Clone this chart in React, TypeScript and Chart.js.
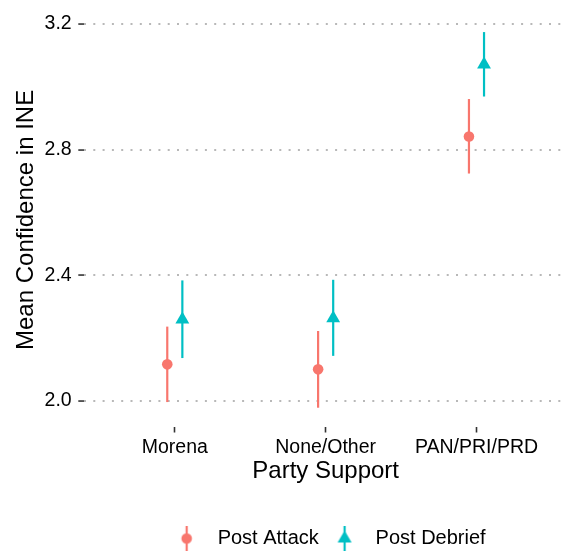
import React, { useEffect, useRef } from 'react';
import { Chart, registerables } from 'chart.js';

Chart.register(...registerables);

const categories = ['Morena', 'None/Other', 'PAN/PRI/PRD'];
const seriesNames = ['Post Attack', 'Post Debrief'];
const attackMean = [2.117, 2.101, 2.842];
const attackLow = [1.997, 1.979, 2.724];
const attackHigh = [2.237, 2.223, 2.961];
const debriefMean = [2.26, 2.264, 3.071];
const debriefLow = [2.137, 2.144, 2.969];
const debriefHigh = [2.384, 2.386, 3.174];
const yTicks = [2.0, 2.4, 2.8, 3.2];
const colors = ['#F8766D', '#00BFC4'];
const dodge = 0.05;

const FONT = "'Liberation Sans', Arial, Helvetica, sans-serif";

function makeIcon(kind: 'circle' | 'triangle', color: string): HTMLCanvasElement {
  const c = document.createElement('canvas');
  c.width = 16;
  c.height = 26;
  const g = c.getContext('2d')!;
  g.strokeStyle = color;
  g.fillStyle = color;
  g.lineWidth = 2.2;
  g.beginPath();
  g.moveTo(8, 0);
  g.lineTo(8, 26);
  g.stroke();
  g.beginPath();
  if (kind === 'circle') {
    g.arc(8, 13, 5.3, 0, Math.PI * 2);
  } else {
    g.moveTo(8, 5);
    g.lineTo(15, 17);
    g.lineTo(1, 17);
    g.closePath();
  }
  g.fill();
  return c;
}

const errorBarPlugin = {
  id: 'errorBars',
  beforeDatasetsDraw(chart: any) {
    const { ctx, scales } = chart;
    const x = scales.x;
    const y = scales.y;
    chart.data.datasets.forEach((ds: any) => {
      ctx.save();
      ctx.strokeStyle = ds.backgroundColor;
      ctx.lineWidth = 2.2;
      ds.data.forEach((pt: any) => {
        const px = x.getPixelForValue(pt.x);
        ctx.beginPath();
        ctx.moveTo(px, y.getPixelForValue(pt.lo));
        ctx.lineTo(px, y.getPixelForValue(pt.hi));
        ctx.stroke();
      });
      ctx.restore();
    });
  },
};

export default function App() {
  const ref = useRef<HTMLCanvasElement | null>(null);

  useEffect(() => {
    if (!ref.current) return;
    const allLow = [...attackLow, ...debriefLow];
    const allHigh = [...attackHigh, ...debriefHigh];
    const lo = Math.min(...allLow);
    const hi = Math.max(...allHigh);
    const span = hi - lo;
    const yMin = lo - 0.05 * span;
    const yMax = hi + 0.05 * span;

    const icons = [makeIcon('circle', colors[0]), makeIcon('triangle', colors[1])];

    const chart = new Chart(ref.current, {
      type: 'scatter',
      data: {
        datasets: [
          {
            label: seriesNames[0],
            data: categories.map((_, i) => ({ x: i + 1 - dodge, y: attackMean[i], lo: attackLow[i], hi: attackHigh[i] })),
            backgroundColor: colors[0],
            borderColor: colors[0],
            borderWidth: 0,
            pointStyle: 'circle',
            pointRadius: 5.3,
          },
          {
            label: seriesNames[1],
            data: categories.map((_, i) => ({ x: i + 1 + dodge, y: debriefMean[i], lo: debriefLow[i], hi: debriefHigh[i] })),
            backgroundColor: colors[1],
            borderColor: colors[1],
            borderWidth: 0,
            pointStyle: 'triangle',
            pointRadius: 8,
          },
        ],
      },
      options: {
        responsive: false,
        animation: false,
        layout: { padding: { top: 13.3, right: 3.3, bottom: -7.5, left: 0 } },
        scales: {
          x: {
            type: 'linear',
            min: 0.4,
            max: 3.6,
            afterBuildTicks: (s: any) => {
              s.ticks = categories.map((_, i) => ({ value: i + 1 }));
            },
            afterFit: (s: any) => {
              s.height = 97.2;
              s.paddingLeft = 0;
              s.paddingRight = 0;
            },
            ticks: {
              callback: (v: any) => categories[Math.round(Number(v)) - 1] ?? '',
              font: { family: FONT, size: 19.5 },
              color: '#000',
              padding: 3,
              maxRotation: 0,
              autoSkip: false,
            },
            grid: {
              drawOnChartArea: false,
              drawTicks: true,
              tickLength: 6,
              tickColor: '#333',
              tickWidth: 1.6,
            },
            border: { display: false },
            title: {
              display: true,
              text: 'Party Support',
              font: { family: FONT, size: 24, lineHeight: 1 },
              color: '#000',
              padding: { top: 0, bottom: 40.7 },
            },
          },
          y: {
            type: 'linear',
            min: yMin,
            max: yMax,
            afterBuildTicks: (s: any) => {
              s.ticks = yTicks.map((v) => ({ value: v }));
            },
            afterFit: (s: any) => {
              s.width = 84.3;
              s.paddingTop = 0;
              s.paddingBottom = 0;
            },
            ticks: {
              callback: (v: any) => Number(v).toFixed(1),
              font: { family: FONT, size: 19.5 },
              color: '#000',
              padding: 6.6,
            },
            grid: {
              color: '#B8B8B8',
              lineWidth: 2.1,
              drawTicks: true,
              tickLength: 6,
              tickColor: '#333',
              tickWidth: 1.6,
              tickBorderDash: [],
            },
            border: { display: false, dash: [2, 7.3] },
            title: {
              display: true,
              text: 'Mean Confidence in INE',
              font: { family: FONT, size: 24, lineHeight: 1 },
              color: '#000',
              padding: { top: 14, bottom: 0 },
            },
          },
        },
        plugins: {
          tooltip: { enabled: false },
          legend: {
            position: 'bottom',
            fullSize: false,
            labels: {
              usePointStyle: true,
              pointStyleWidth: 42,
              padding: 4.8,
              color: '#000',
              font: { family: FONT, size: 20 },
              generateLabels: (c: any) =>
                c.data.datasets.map((ds: any, i: number) => ({
                  text: ds.label,
                  pointStyle: icons[i],
                  fillStyle: colors[i],
                  strokeStyle: colors[i],
                  lineWidth: 0,
                  hidden: false,
                  datasetIndex: i,
                  fontColor: '#000',
                })),
            },
          },
        },
      } as any,
      plugins: [errorBarPlugin],
    });
    return () => chart.destroy();
  }, []);

  return (
    <div style={{ position: 'absolute', left: 0, top: 0, width: 575, height: 551, background: '#fff' }}>
      <canvas ref={ref} width={575} height={551} style={{ display: 'block' }} />
    </div>
  );
}
